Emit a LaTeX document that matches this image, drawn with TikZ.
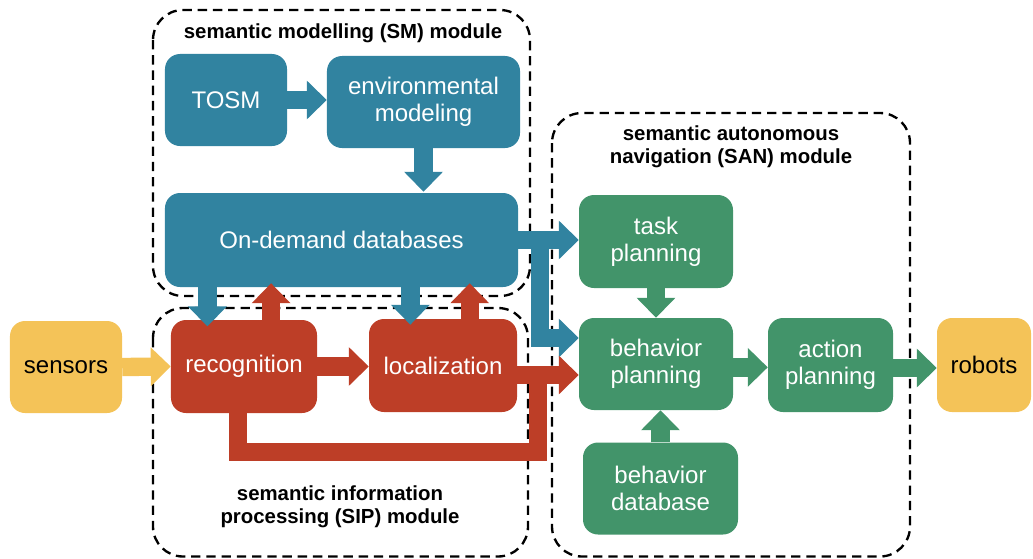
\documentclass[tikz,border=0pt]{standalone}
\usepackage{fontspec}
\setmainfont{Liberation Sans}
\usetikzlibrary{arrows.meta,calc}

\definecolor{smblue}{RGB}{49,131,160}
\definecolor{sipred}{RGB}{189,62,39}
\definecolor{sangreen}{RGB}{66,148,106}
\definecolor{ioyellow}{RGB}{244,195,88}

\tikzset{
	block/.style={rounded corners=0.45cm, draw=none, text=white, align=center,
		font=\fontsize{20.5}{23}\selectfont, inner sep=0pt},
	smblock/.style={block, fill=smblue},
	sipblock/.style={block, fill=sipred},
	sanblock/.style={block, fill=sangreen},
	ioblock/.style={block, fill=ioyellow, text=black},
	fat/.style={line width=0.55cm, -{Triangle[width=1.13cm,length=0.6cm]}},
	fatline/.style={line width=0.55cm},
	module/.style={draw=black, line width=2pt, dash pattern=on 8pt off 5pt, rounded corners=0.9cm},
	modlabel/.style={font=\fontsize{17.4}{20}\selectfont\bfseries, align=center}
}

\begin{document}
\begin{tikzpicture}[x=0.03cm, y=-0.03cm]
	\useasboundingbox (0,0) rectangle (1033,558);

	% module frames
	\draw [module] (153,10) rectangle (530,296);
	\draw [module] (153,308) rectangle (528,556.5);
	\draw [module] (552,113) rectangle (910,556.5);
	\node [modlabel] (smlabel) at (343,33) {semantic modelling (SM) module};
	\node [modlabel] (siplabel) at (340,507) {semantic information\\processing (SIP) module};
	\node [modlabel] (sanlabel) at (731,147) {semantic autonomous\\navigation (SAN) module};

	% blocks
	\node [smblock, minimum width=3.66cm, minimum height=2.76cm] (tosm) at (226,100) {TOSM};
	\node [smblock, minimum width=5.79cm, minimum height=2.76cm] (env) at (423.5,102) {environmental\\modeling};
	\node [smblock, minimum width=10.59cm, minimum height=2.82cm] (dbase) at (341.5,240) {On-demand databases};
	\node [sipblock, minimum width=4.38cm, minimum height=2.79cm] (rec) at (244,366.5) {recognition};
	\node [sipblock, minimum width=4.44cm, minimum height=2.79cm] (loc) at (443,365.5) {localization};
	\node [ioblock, minimum width=3.36cm, minimum height=2.76cm] (sens) at (66,367) {sensors};
	\node [sanblock, minimum width=4.62cm, minimum height=2.79cm] (task) at (656,241.5) {task\\planning};
	\node [sanblock, minimum width=4.62cm, minimum height=2.76cm] (bplan) at (656,364) {behavior\\planning};
	\node [sanblock, minimum width=4.65cm, minimum height=2.76cm] (bdb) at (660.5,488.5) {behavior\\database};
	\node [sanblock, minimum width=3.75cm, minimum height=2.82cm] (act) at (830.5,365) {action\\planning};
	\node [ioblock, minimum width=2.82cm, minimum height=2.82cm] (robot) at (984,365) {robots};

	% anchor points on the block edges
	\path (rec.north west) -- (rec.north east) coordinate[pos=0.25] (recdown) coordinate[pos=0.685] (recup);
	\path (loc.north west) -- (loc.north east) coordinate[pos=0.28] (locdown) coordinate[pos=0.68] (locup);
	\coordinate (bluejoin) at ([xshift=0.66cm]dbase.east);
	\coordinate (bluein) at ([yshift=0.78cm]bplan.west);
	\coordinate (redin) at ([yshift=-0.33cm]bplan.west);
	\coordinate (redjoin) at ([xshift=0.63cm]redin -| loc.east);
	\coordinate (redout) at ([xshift=-0.18cm]rec.south);

	% SM arrows
	\draw [fat, smblue] (tosm.east) -- (tosm.east -| env.west);
	\draw [fat, smblue] (env.south) -- ([yshift=0.03cm]env.south |- dbase.north);
	\draw [fat, smblue] (recdown |- dbase.south) -- ([yshift=-0.2cm]recdown);
	\draw [fat, smblue] (locdown |- dbase.south) -- ([yshift=-0.18cm]locdown);
	\draw [fat, smblue] (bluejoin) |- (bluein);
	\draw [fat, smblue] (dbase.east) -- (dbase.east -| task.west);

	% SIP arrows
	\draw [fat, sipred] (recup) -- ([yshift=0.12cm]recup |- dbase.south);
	\draw [fat, sipred] (locup) -- ([yshift=0.12cm]locup |- dbase.south);
	\draw [fat, sipred] (rec.east) -- (rec.east -| loc.west);
	\draw [fatline, sipred] (redout) -- ([yshift=-1.17cm]redout) -| (redjoin);
	\draw [fat, sipred] (redin -| loc.east) -- (redin);

	% SAN arrows
	\draw [fat, ioyellow] (sens.east) -- (rec.west);
	\draw [fat, sangreen] (task.south) -- (bplan.north);
	\draw [fat, sangreen] (bdb.north) -- (bdb.north |- bplan.south);
	\draw [fat, sangreen] ([yshift=-0.1cm]bplan.east) -- ([yshift=-0.1cm]bplan.east -| act.west);
	\draw [fat, sangreen] ([yshift=-0.09cm]act.east) -- ([yshift=-0.09cm]act.east -| robot.west);
\end{tikzpicture}
\end{document}
